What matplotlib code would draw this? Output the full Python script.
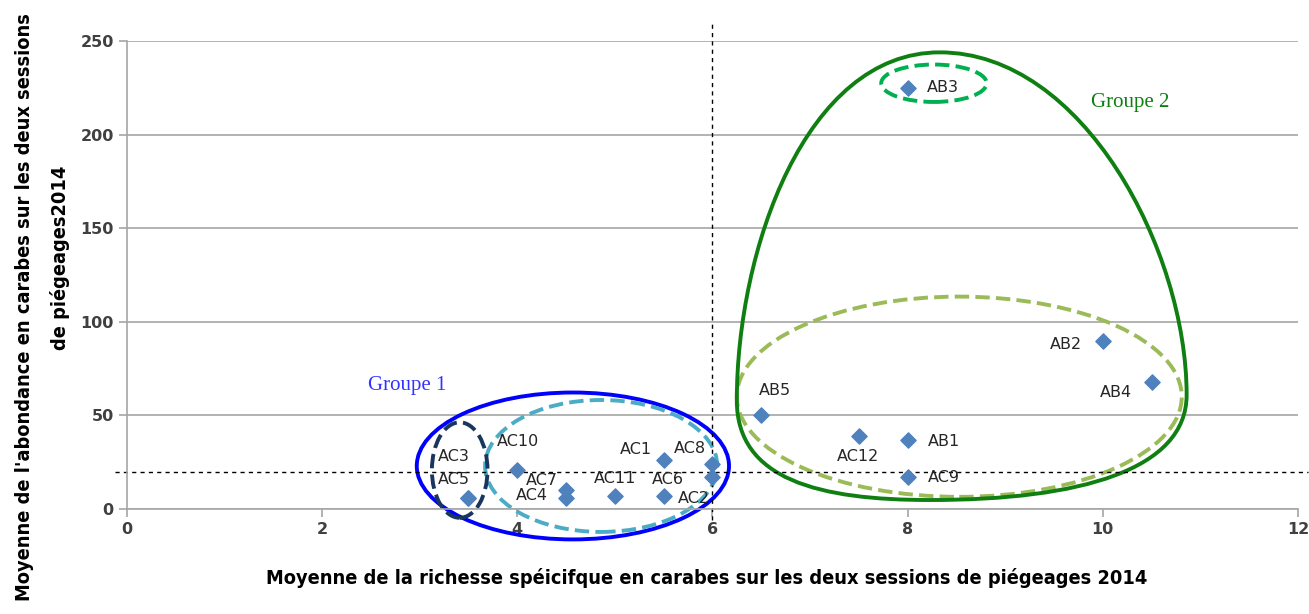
import matplotlib.pyplot as plt
from matplotlib.patches import Ellipse, PathPatch
from matplotlib.path import Path

# Site names and values
sites = ["AB3", "AB2", "AB4", "AB5", "AC12", "AB1", "AC9",
         "AC10", "AC7", "AC4", "AC11", "AC1", "AC8", "AC6", "AC2", "AC3", "AC5"]
richesse = [8, 10, 10.5, 6.5, 7.5, 8, 8,
            4, 4.5, 4.5, 5, 5.5, 6, 5.5, 6, 3.5, 3.5]
abondance = [225, 90, 68, 50, 39, 37, 17,
             21, 10, 6, 7, 26, 24, 7, 17, 6, 6]

# label placement (offset in pixels, horizontal alignment)
label_pos = [(19, 0, "left"), (-21, -4, "right"), (-20, -11, "right"), (-2, 25, "left"),
             (-1, -20, "center"), (20, -2, "left"), (20, 0, "left"),
             (1, 28, "center"), (-8, 10, "right"), (-18, 2, "right"), (0, 17, "center"),
             (-12, 11, "right"), (-6, 16, "right"), (4, 16, "center"), (-35, -21, "left"),
             (-15, 41, "center"), (-15, 18, "center")]

SEUIL_X = 6
SEUIL_Y = 20

fig = plt.figure(figsize=(13.09, 6.14), dpi=100)
ax = fig.add_axes([0.097, 0.171, 0.8945, 0.762])

ax.set_xlim(0, 12)
ax.set_ylim(0, 250)
ax.set_xticks(range(0, 13, 2))
ax.set_yticks(range(0, 251, 50))
ax.grid(axis="y", color="#a6a6a6", lw=1.2)
ax.set_axisbelow(True)
for s in ["top", "right"]:
    ax.spines[s].set_visible(False)
for s in ["left", "bottom"]:
    ax.spines[s].set_color("#a6a6a6")
    ax.spines[s].set_linewidth(1.2)
ax.tick_params(colors="#a6a6a6", length=6, width=1.2)
for lab in ax.get_xticklabels() + ax.get_yticklabels():
    lab.set_color("#404040")
    lab.set_fontsize(11.5)
    lab.set_fontweight("bold")

# threshold lines (drawn past the plot area like the original)
ax.plot([-0.12, 12.1], [SEUIL_Y, SEUIL_Y], color="black", ls=(0, (3, 3)), lw=1, clip_on=False)
ax.plot([SEUIL_X, SEUIL_X], [-6, 261], color="black", ls=(0, (3, 3)), lw=1, clip_on=False)

ax.scatter(richesse, abondance, marker="D", s=60, color="#4f81bd", zorder=3)

for name, x, y, (dx, dy, ha) in zip(sites, richesse, abondance, label_pos):
    ax.annotate(name, (x, y), xytext=(dx, dy), textcoords="offset pixels",
                ha=ha, va="center", fontsize=11.5, color="#262626", zorder=4)

# group outlines
ax.add_patch(Ellipse((4.57, 23), 3.2, 78.5, fill=False, ec="#0000ff", lw=2.8, clip_on=False))
ax.add_patch(Ellipse((4.86, 23), 2.38, 70.5, fill=False, ec="#4bacc6", lw=2.8, ls="--", clip_on=False))
ax.add_patch(Ellipse((3.41, 20.8), 0.57, 51, fill=False, ec="#17375e", lw=2.8, ls="--", clip_on=False))
ax.add_patch(Ellipse((8.27, 227.5), 1.08, 20, fill=False, ec="#00b050", lw=2.8, ls="--"))
ax.add_patch(Ellipse((8.53, 60), 4.56, 107, fill=False, ec="#9bbb59", lw=2.8, ls="--"))

verts = [(8.33, 244), (6.95, 244), (6.25, 138), (6.25, 58),
         (6.25, 15.5), (7.10, 4.8), (8.23, 4.8),
         (9.76, 4.8), (10.86, 20.8), (10.86, 61),
         (10.86, 138), (9.80, 244), (8.33, 244)]
codes = [Path.MOVETO] + [Path.CURVE4] * 12
ax.add_patch(PathPatch(Path(verts, codes), fill=False, ec="#0f7f12", lw=2.8))

ax.text(2.87, 66, "Groupe 1", color="#3333ff", fontsize=15, family="Liberation Serif",
        ha="center", va="center")
ax.text(10.28, 217, "Groupe 2", color="#0f7f12", fontsize=15, family="Liberation Serif",
        ha="center", va="center")

lab_font = dict(fontsize=14.3, fontweight="bold", color="black",
                family="DejaVu Sans", fontstretch="condensed")
fig.text(707 / 1309, 1 - 578 / 614,
         "Moyenne de la richesse spéicifque en carabes sur les deux sessions de piégeages 2014",
         ha="center", va="center", **lab_font)
fig.text(25 / 1309, 1 - 307 / 614,
         "Moyenne de l'abondance en carabes sur les deux sessions",
         ha="center", va="center", rotation=90, **lab_font)
fig.text(60 / 1309, 1 - 258 / 614, "de piégeages2014",
         ha="center", va="center", rotation=90, **lab_font)

fig.savefig("out.png", dpi=100)
